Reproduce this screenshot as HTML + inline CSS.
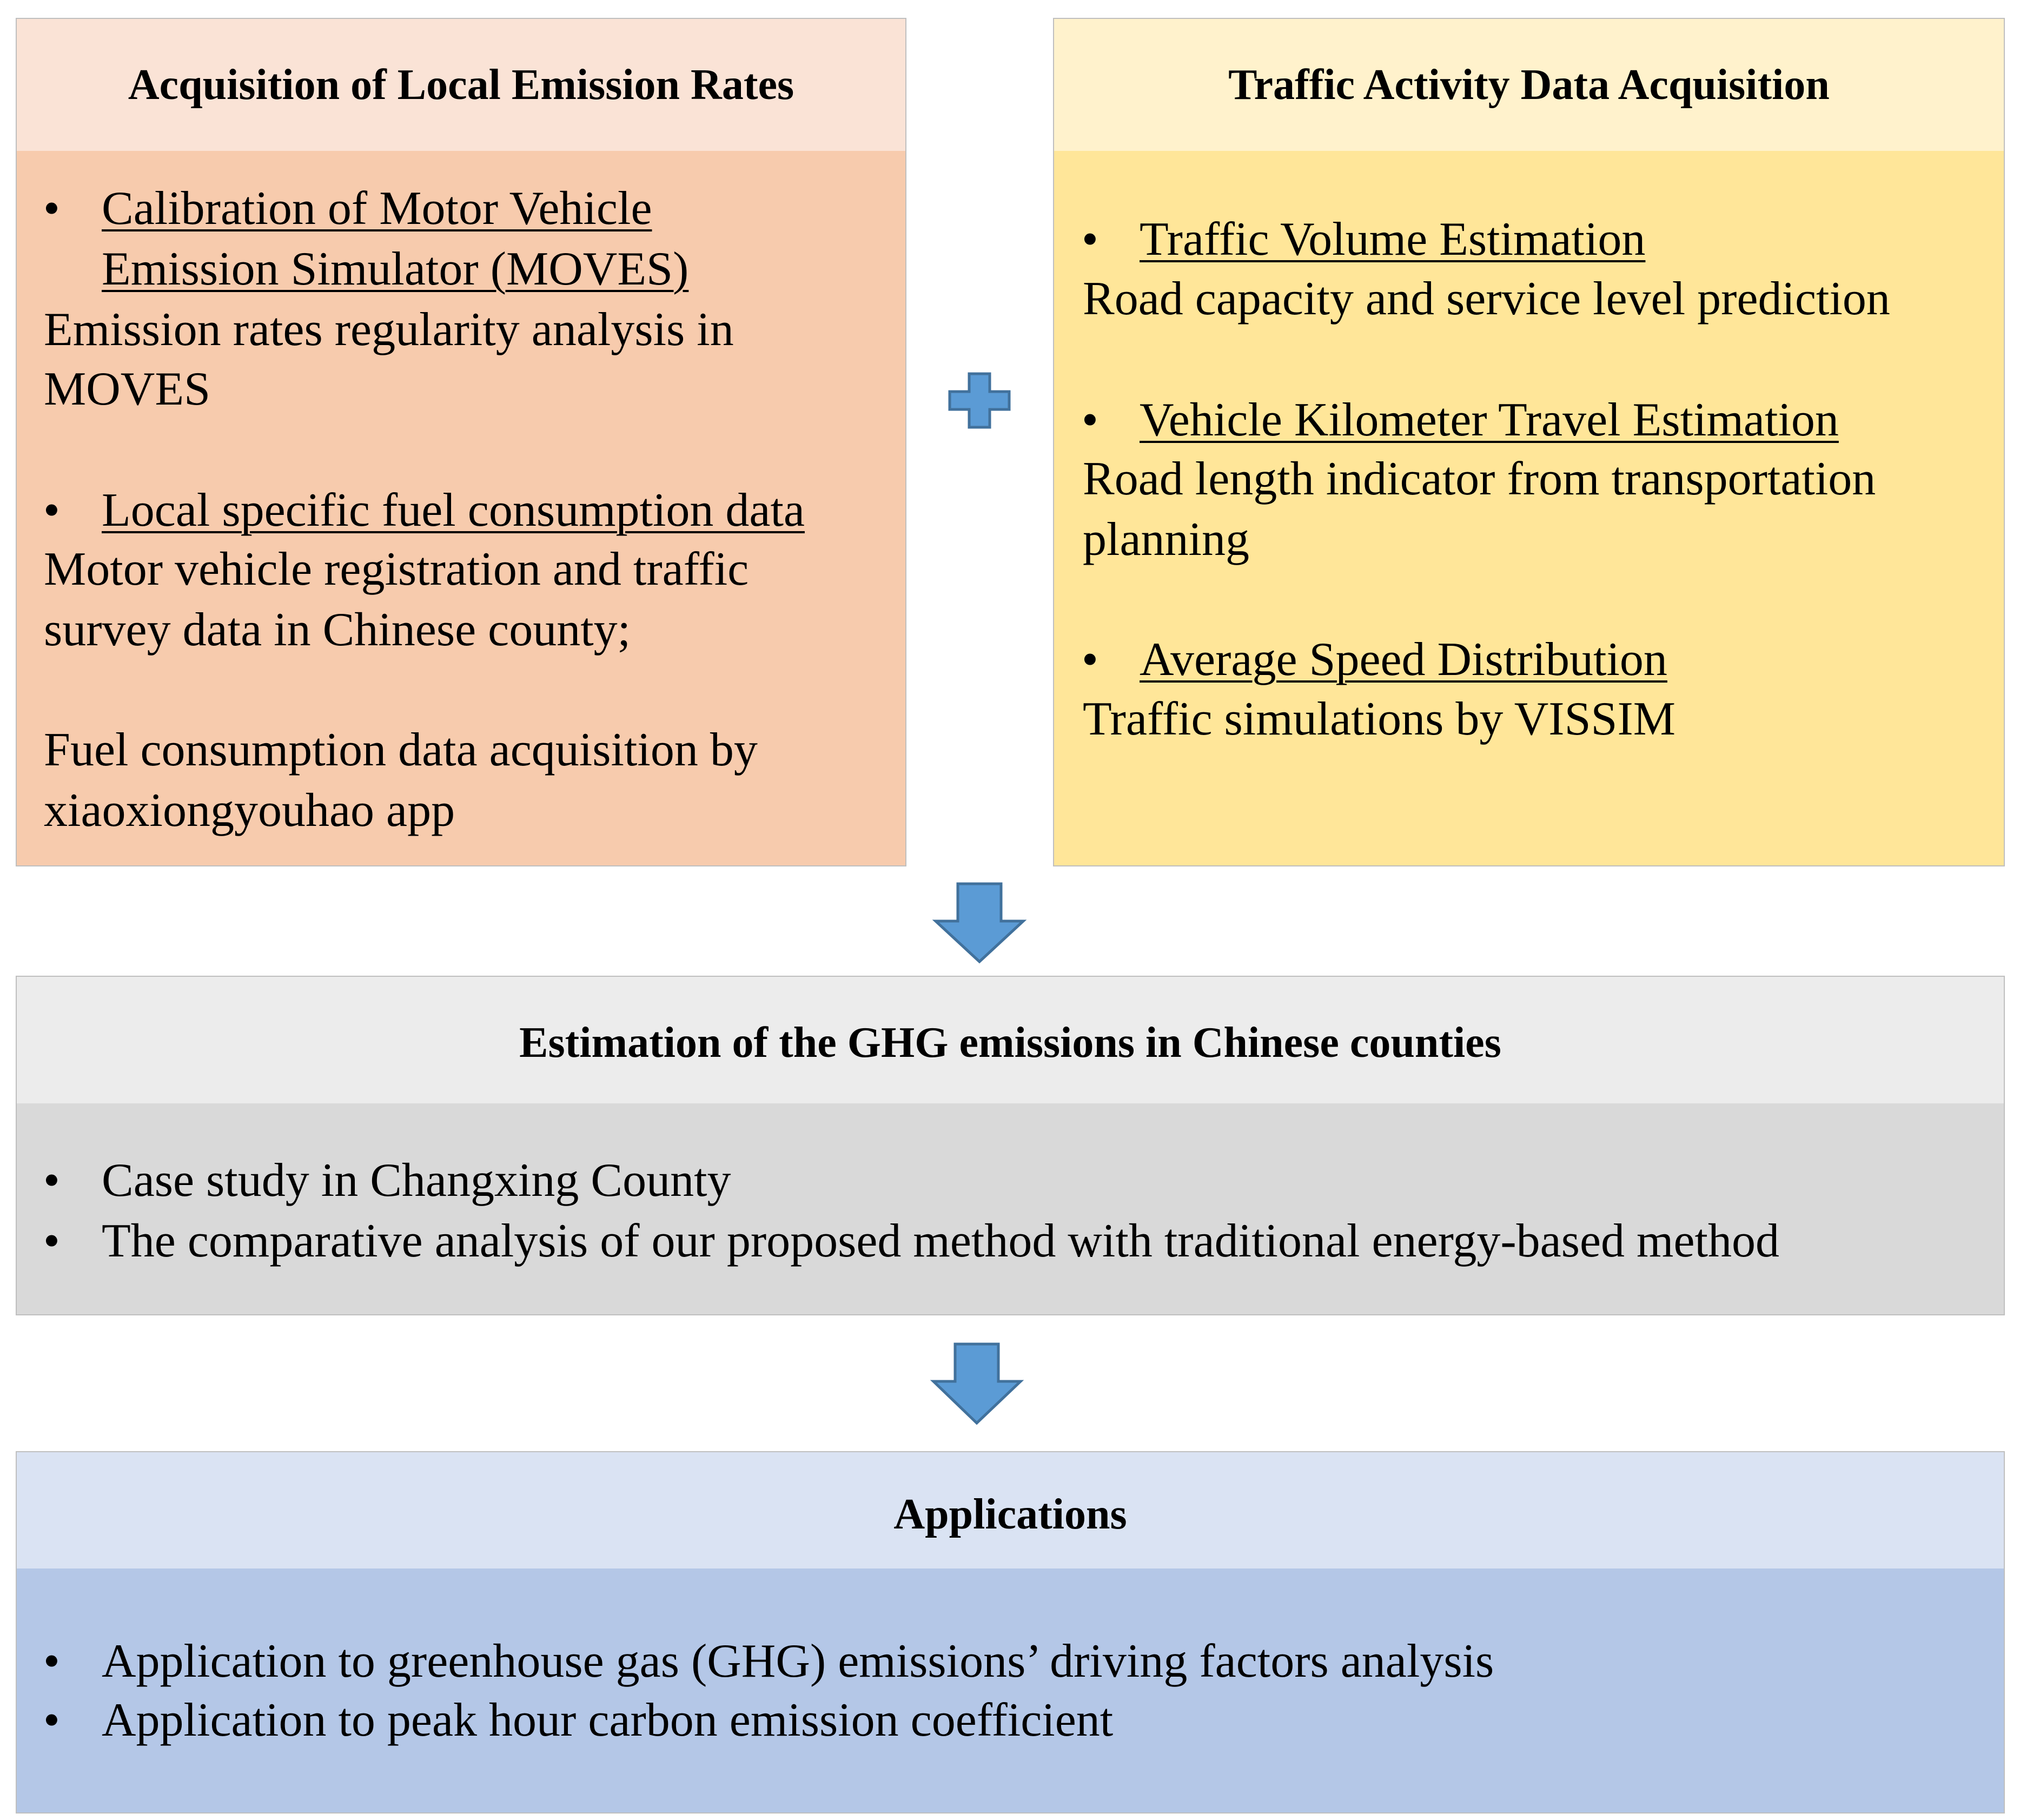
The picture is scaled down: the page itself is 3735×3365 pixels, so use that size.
<!DOCTYPE html>
<html><head><meta charset="utf-8"><style>
body{margin:0;width:3735px;height:3365px;background:#fff;position:relative;overflow:hidden;font-family:"Liberation Serif",serif;color:#000}
.b{position:absolute;box-sizing:border-box;border:2px solid #bfbfbf}
.t{position:absolute;font-size:88px;line-height:112px;height:112px;white-space:nowrap}
.h{position:absolute;font-size:80px;font-weight:bold;line-height:112px;text-align:center;white-space:nowrap}
u{text-decoration-thickness:4px;text-underline-offset:10px}
</style></head><body>
<div class="b" style="left:29px;top:33px;width:1647px;height:1569px;background:#f7cbad"></div>
<div style="position:absolute;left:31px;top:35px;width:1643px;height:244px;background:#fae3d6"></div>
<div class="b" style="left:1947px;top:33px;width:1760px;height:1569px;background:#ffe699"></div>
<div style="position:absolute;left:1949px;top:35px;width:1756px;height:244px;background:#fff2cc"></div>
<div class="b" style="left:29px;top:1804px;width:3678px;height:628px;background:#d9d9d9"></div>
<div style="position:absolute;left:31px;top:1806px;width:3674px;height:234px;background:#ececec"></div>
<div class="b" style="left:29px;top:2683px;width:3678px;height:670px;background:#b4c7e7"></div>
<div style="position:absolute;left:31px;top:2685px;width:3674px;height:215px;background:#dae3f3"></div>

<div class="h" style="left:29px;width:1647px;top:101px">Acquisition of Local Emission Rates</div>
<div class="h" style="left:1947px;width:1760px;top:101px">Traffic Activity Data Acquisition</div>
<div class="h" style="left:29px;width:3678px;top:1872px">Estimation of the GHG emissions in Chinese counties</div>
<div class="h" style="left:29px;width:3678px;top:2744px">Applications</div>

<div class="t" style="left:80px;top:330px">•</div><div class="t" style="left:188px;top:330px"><u>Calibration of Motor Vehicle</u></div>
<div class="t" style="left:188px;top:442px"><u>Emission Simulator (MOVES)</u></div>
<div class="t" style="left:81px;top:554px">Emission rates regularity analysis in</div>
<div class="t" style="left:81px;top:664px">MOVES</div>
<div class="t" style="left:80px;top:888px">•</div><div class="t" style="left:188px;top:888px"><u>Local specific fuel consumption data</u></div>
<div class="t" style="left:81px;top:997px">Motor vehicle registration and traffic</div>
<div class="t" style="left:81px;top:1109px">survey data in Chinese county;</div>
<div class="t" style="left:81px;top:1331px">Fuel consumption data acquisition by</div>
<div class="t" style="left:81px;top:1443px">xiaoxiongyouhao app</div>

<div class="t" style="left:2000px;top:387px">•</div><div class="t" style="left:2107px;top:387px"><u>Traffic Volume Estimation</u></div>
<div class="t" style="left:2002px;top:497px">Road capacity and service level prediction</div>
<div class="t" style="left:2000px;top:721px">•</div><div class="t" style="left:2107px;top:721px"><u>Vehicle Kilometer Travel Estimation</u></div>
<div class="t" style="left:2002px;top:830px">Road length indicator from transportation</div>
<div class="t" style="left:2002px;top:942px">planning</div>
<div class="t" style="left:2000px;top:1164px">•</div><div class="t" style="left:2107px;top:1164px"><u>Average Speed Distribution</u></div>
<div class="t" style="left:2002px;top:1274px">Traffic simulations by VISSIM</div>

<div class="t" style="left:80px;top:2127px">•</div><div class="t" style="left:188px;top:2127px">Case study in Changxing County</div>
<div class="t" style="left:80px;top:2239px">•</div><div class="t" style="left:188px;top:2239px">The comparative analysis of our proposed method with traditional energy-based method</div>
<div class="t" style="left:80px;top:3016px">•</div><div class="t" style="left:188px;top:3016px">Application to greenhouse gas (GHG) emissions’ driving factors analysis</div>
<div class="t" style="left:80px;top:3125px">•</div><div class="t" style="left:188px;top:3125px">Application to peak hour carbon emission coefficient</div>

<svg style="position:absolute;left:0;top:0" width="3735" height="3365">
<g fill="#5b9bd5" stroke="#41719c" stroke-width="5" stroke-linejoin="miter">
<polygon points="1792,691 1830,691 1830,724 1866,724 1866,757 1830,757 1830,790 1792,790 1792,757 1756,757 1756,724 1792,724"/>
<polygon points="1771,1634 1851,1634 1851,1703 1892,1703 1811,1778 1730,1703 1771,1703"/>
<polygon points="1766,2485 1846,2485 1846,2554 1887,2554 1806,2631 1726,2554 1766,2554"/>
</g></svg>
</body></html>
